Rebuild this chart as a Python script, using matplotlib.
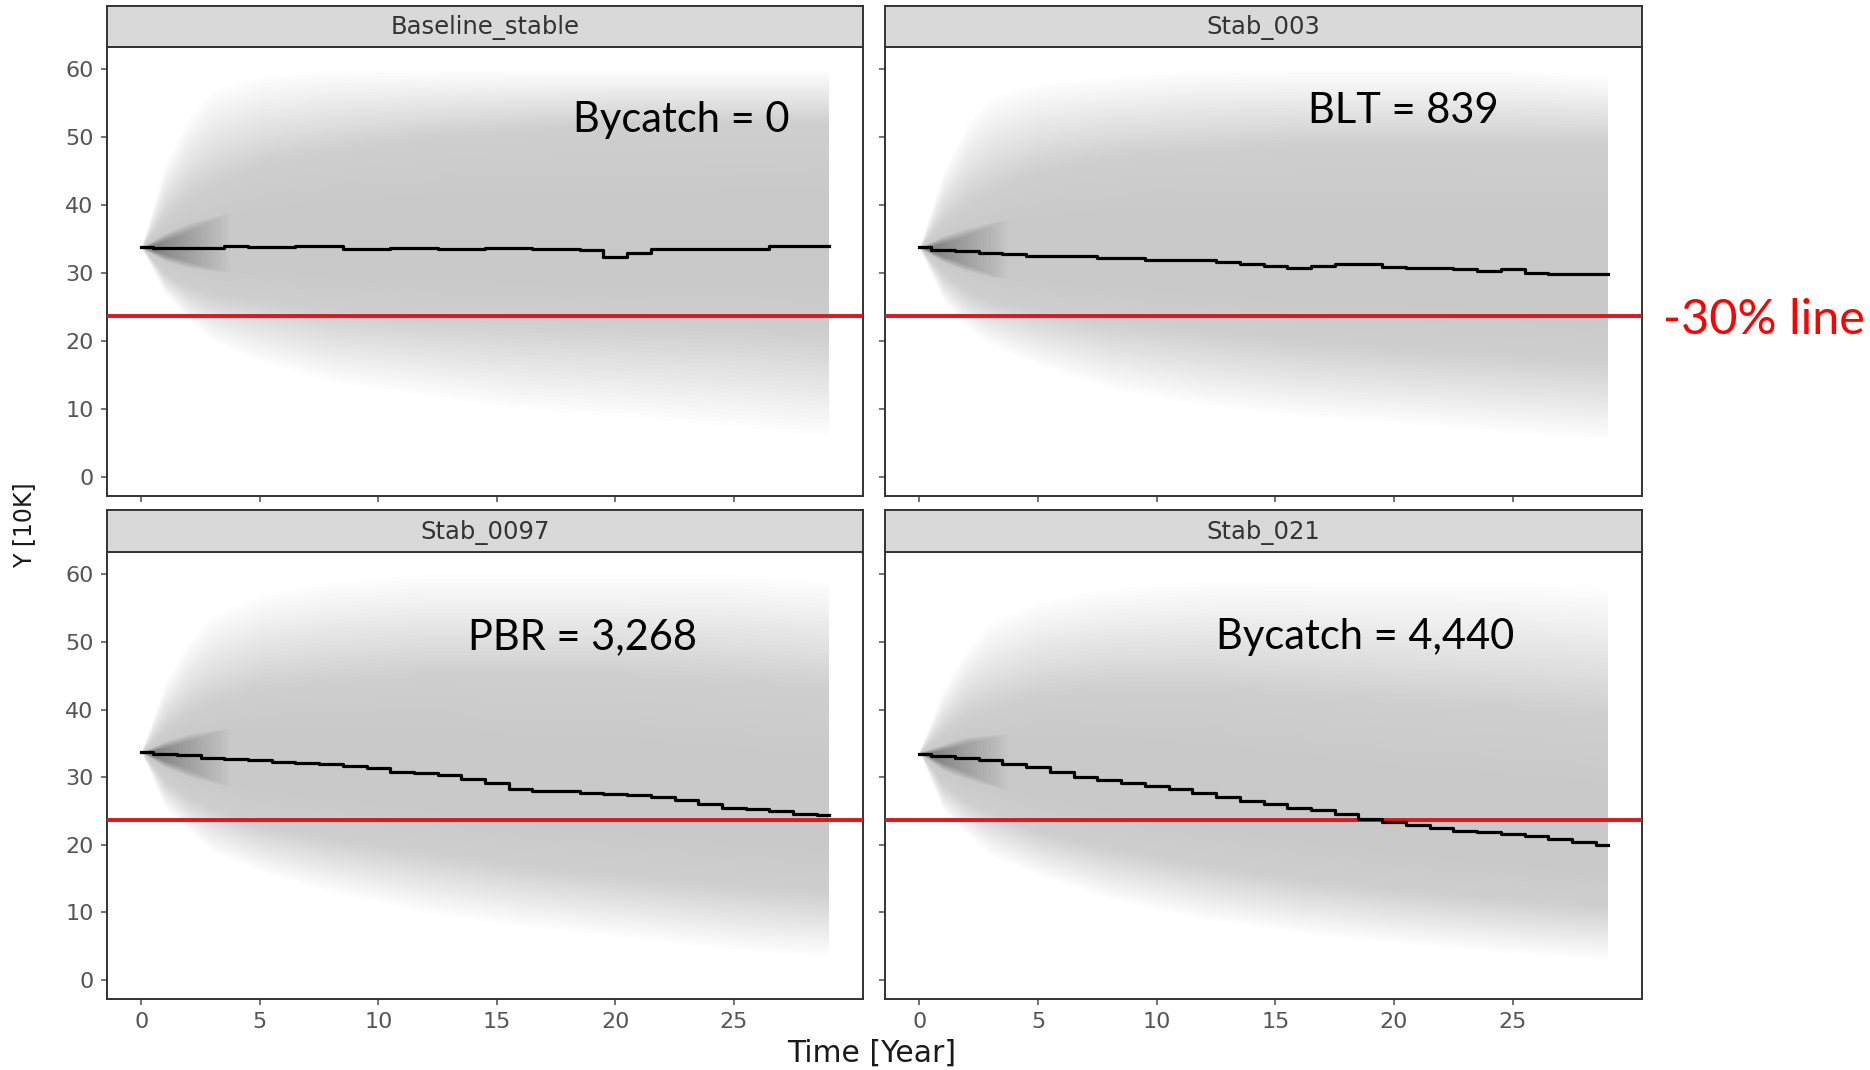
import numpy as np
import matplotlib
matplotlib.use("Agg")
import matplotlib.pyplot as plt

# ---- data ----
panels = ["Baseline_stable", "Stab_003", "Stab_0097", "Stab_021"]
notes = ["Bycatch = 0", "BLT = 839", "PBR = 3,268", "Bycatch = 4,440"]
note_xy = [(22.8, 52.6), (20.4, 53.9), (18.6, 50.7), (18.8, 50.7)]

years = list(range(30))
median_baseline = [33.8, 33.7, 33.7, 33.7, 34.0, 33.8, 33.8, 34.0, 34.0, 33.5,
                   33.5, 33.7, 33.7, 33.5, 33.5, 33.7, 33.7, 33.5, 33.5, 33.4,
                   32.4, 33.0, 33.5, 33.5, 33.5, 33.5, 33.6, 34.0, 34.0, 34.0]
median_003 = [33.8, 33.4, 33.2, 33.0, 32.8, 32.6, 32.5, 32.5, 32.3, 32.2,
              32.0, 32.0, 31.9, 31.7, 31.4, 31.0, 30.8, 31.1, 31.4, 31.3,
              30.9, 30.8, 30.8, 30.6, 30.3, 30.6, 30.0, 29.9, 29.9, 29.9]
median_0097 = [33.7, 33.5, 33.3, 32.9, 32.7, 32.5, 32.3, 32.1, 32.0, 31.7,
               31.3, 30.8, 30.6, 30.3, 29.7, 29.2, 28.3, 28.0, 27.9, 27.7,
               27.5, 27.4, 27.0, 26.6, 26.0, 25.5, 25.3, 25.0, 24.6, 24.4]
median_021 = [33.5, 33.2, 32.9, 32.5, 32.0, 31.5, 30.8, 30.0, 29.6, 29.1,
              28.7, 28.3, 27.6, 27.0, 26.5, 26.0, 25.5, 25.2, 24.5, 23.8,
              23.3, 22.9, 22.5, 22.1, 21.9, 21.6, 21.3, 20.8, 20.4, 20.0]
medians = [median_baseline, median_003, median_0097, median_021]

# spread of the simulated trajectories (outer and inner envelopes)
env_t = [0, 1, 2, 3, 5, 8, 12, 16, 20, 25, 29]
outer_hi = [
    [33.8, 46, 53, 57, 59, 60, 60, 60, 60, 60, 60],
    [33.8, 45, 52, 56, 58, 59, 60, 60, 60, 60, 59],
    [33.8, 44, 50, 54, 57, 59, 60, 60, 60, 60, 59],
    [33.8, 43, 49, 53, 56, 58, 59, 59, 59, 59, 58],
]
inner_hi = [
    [33.8, 38, 41, 43, 46, 48, 50, 51, 52, 52, 52],
    [33.8, 37.5, 40, 42, 45, 47, 48, 49, 49, 49, 49],
    [33.8, 37, 39.5, 41, 43, 44, 45, 45, 45, 44, 43],
    [33.8, 36.5, 39, 40, 42, 43, 43, 42, 41, 40, 39],
]
inner_lo = [
    [33.8, 30, 28, 27, 26, 24.5, 23.5, 23, 22.5, 22, 21],
    [33.8, 30, 27.5, 26, 24.5, 23, 21.5, 20, 19, 18, 17],
    [33.8, 29.5, 27, 25.5, 23, 21, 19, 17, 15.5, 14, 13],
    [33.8, 29, 26.5, 25, 22, 19.5, 17, 15, 13.5, 12, 11],
]
outer_lo = [
    [33.8, 27, 23, 20, 17, 14, 12, 10, 9, 7.5, 6],
    [33.8, 26, 22, 19.5, 16.5, 13, 10.5, 9, 8, 6.5, 5.5],
    [33.8, 25.5, 22, 19, 16, 13, 10, 8, 6.5, 4.5, 3.5],
    [33.8, 25, 21.5, 18.5, 15.5, 12, 9, 7, 5.5, 4, 3],
]
decline_line = 23.66

FIG_W, FIG_H = 1870, 1070
fig = plt.figure(figsize=(FIG_W / 100, FIG_H / 100), dpi=100)

col_x = [(107, 863), (885, 1642)]
row_y = [(6, 47, 496), (510, 552, 999)]   # strip top, panel top, panel bottom
frame_col = "#333333"

for i, name in enumerate(panels):
    r, c = divmod(i, 2)
    x0, x1 = col_x[c]
    st, pt, pb = row_y[r]
    ax = fig.add_axes([x0 / FIG_W, 1 - pb / FIG_H, (x1 - x0) / FIG_W, (pb - pt) / FIG_H])
    sx = fig.add_axes([x0 / FIG_W, 1 - pt / FIG_H, (x1 - x0) / FIG_W, (pt - st) / FIG_H])

    # strip
    sx.set_facecolor("#d9d9d9")
    sx.set_xticks([])
    sx.set_yticks([])
    for s in sx.spines.values():
        s.set_color(frame_col)
        s.set_linewidth(1.4)
    sx.text(0.5, 0.47, name, ha="center", va="center", fontsize=17.5,
            color="#333333", family="DejaVu Sans", transform=sx.transAxes)

    # trajectory cloud: soft fade from outer envelope to inner envelope
    t = np.array(env_t, dtype=float)
    ohi, ihi = np.array(outer_hi[i]), np.array(inner_hi[i])
    ilo, olo = np.array(inner_lo[i]), np.array(outer_lo[i])
    med = np.array(medians[i])[t.astype(int)]
    n = 24
    for k in range(n):
        f = k / n
        ax.fill_between(t, olo + (ilo - olo) * f, ohi + (ihi - ohi) * f,
                        color="black", alpha=0.0061, lw=0)
    # inner part, fading a little further towards the median
    for k in range(6):
        f = k / 10
        ax.fill_between(t, ilo + (med - ilo) * f, ihi + (med - ihi) * f,
                        color="black", alpha=0.0055, lw=0)

    # darker knot where all runs start, fading out over the first years
    tf = np.linspace(0, 4, 160)
    mf = np.interp(tf, t, med)
    k_hi = np.interp(tf, t, (ihi + med) / 2)
    k_lo = np.interp(tf, t, (ilo + med) / 2)
    nk = 26
    for j in range(nk):
        s = 0.35 + 0.65 * j / (nk - 1)
        m = tf <= 0.2 + j * 0.14
        ax.fill_between(tf[m], mf[m] - (mf[m] - k_lo[m]) * s, mf[m] + (k_hi[m] - mf[m]) * s,
                        color="black", alpha=0.016, lw=0)

    ax.axhline(decline_line, color="#e3141a", lw=2.8, zorder=3)
    ax.plot(years, medians[i], color="black", lw=2.3, drawstyle="steps-mid", zorder=4)

    ax.text(note_xy[i][0], note_xy[i][1], notes[i], ha="center", va="center",
            fontsize=30, family="Lato", color="black", zorder=5)

    ax.set_xlim(-1.45, 30.45)
    ax.set_ylim(-2.8, 63.3)
    ax.set_xticks([0, 5, 10, 15, 20, 25])
    ax.set_yticks([0, 10, 20, 30, 40, 50, 60])
    ax.tick_params(colors="#4d4d4d", length=4.5, width=1.1, labelsize=16, pad=5,
                   labelcolor="#555555")
    if r == 0:
        ax.tick_params(axis="x", labelbottom=False)
    if c == 1:
        ax.tick_params(axis="y", labelleft=False)
    for s in ax.spines.values():
        s.set_color(frame_col)
        s.set_linewidth(1.4)
    ax.set_facecolor("white")

fig.text(24 / FIG_W, 1 - 525 / FIG_H, "Y [10K]", rotation=90, ha="center", va="center",
         fontsize=17, family="DejaVu Sans", color="#1a1a1a")
fig.text(872 / FIG_W, 1 - 1053 / FIG_H, "Time [Year]", ha="center", va="center",
         fontsize=21.5, family="DejaVu Sans", color="#1a1a1a")
fig.text(1764 / FIG_W, 1 - 320 / FIG_H, "-30% line", ha="center", va="center",
         fontsize=35, family="Lato", color="#ff0000")

fig.savefig("out.png", dpi=100)
